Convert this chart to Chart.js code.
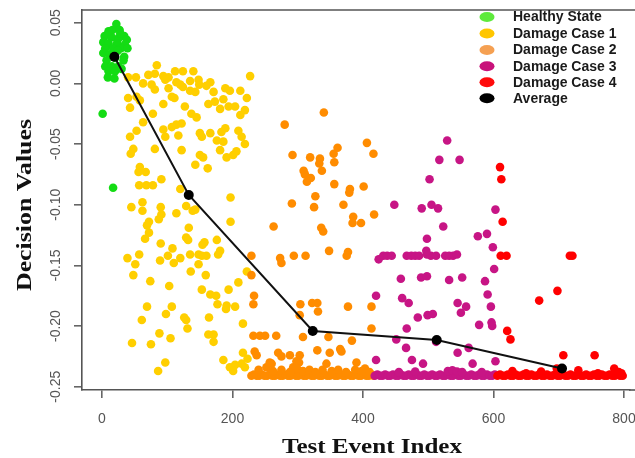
<!DOCTYPE html>
<html><head><meta charset="utf-8">
<script src="https://cdn.jsdelivr.net/npm/chart.js@4/dist/chart.umd.min.js"></script>
<style>html,body{margin:0;padding:0;background:#fff;}#wrap{width:635px;height:458px;position:relative;}</style>
</head><body><div id="wrap"><canvas id="c" width="635" height="458"></canvas></div>
<script>
const xTicks=[0,200,400,600,800];
const yTicks=[-0.25,-0.20,-0.15,-0.10,-0.05,0.00,0.05];
const yTickLabels=['-0.25','-0.20','-0.15','-0.10','-0.05','0.00','0.05'];
const seriesNames=['Healthy State','Damage Case 1','Damage Case 2','Damage Case 3','Damage Case 4','Average'];
const axisTitleX='Test Event Index';
const axisTitleY='Decision Values';

const healthyX=[22,16,27,34,4,15,25,38,2,10,23,35,5,17,29,39,2,12,34,7,20,33,5,15,25,10,20,9,19,28,10,30,24,1,17];
const healthyY=[0.049,0.044,0.044,0.039,0.039,0.038,0.037,0.036,0.034,0.033,0.033,0.032,0.029,0.029,0.029,0.029,0.025,0.024,0.022,0.019,0.021,0.019,0.014,0.014,0.014,0.010,0.010,0.005,0.004,0.041,0.043,0.012,0.027,-0.025,-0.086];

const case1X=[84,71,81,94,102,112,124,140,52,40,
63,76,97,114,120,135,148,149,166,160,
227,81,102,124,135,143,171,189,196,212,
222,40,53,58,43,94,107,111,127,163,
173,186,194,204,181,219,212,137,145,78,
63,94,107,114,122,117,97,150,153,166,
183,189,209,214,176,186,219,43,53,48,
44,81,122,181,191,201,206,150,155,143,
162,58,56,67,91,68,57,78,120,197,
45,62,62,90,91,87,114,129,139,143,
72,69,72,66,133,129,132,90,108,157,
154,176,197,39,57,51,48,89,101,110,
120,135,148,153,160,178,181,148,136,159,
74,103,153,166,175,194,209,222,177,191,
204,190,69,107,98,61,126,129,131,164,
216,88,105,163,171,171,46,75,97,86,
186,196,204,214,219,216,223,201];
const case1Y=[0.015,0.007,0.008,0.006,0.005,0.010,0.010,0.010,0.005,0.005,
0.000,-0.001,0.003,0.001,-0.001,0.002,0.003,-0.001,0.001,-0.002,
0.006,-0.005,-0.004,-0.003,-0.006,-0.007,-0.007,-0.004,-0.006,-0.006,
-0.012,-0.012,-0.011,-0.014,-0.020,-0.017,-0.011,-0.012,-0.019,-0.017,
-0.015,-0.013,-0.019,-0.019,-0.021,-0.022,-0.026,-0.025,-0.028,-0.025,
-0.032,-0.038,-0.036,-0.034,-0.033,-0.043,-0.044,-0.041,-0.044,-0.041,
-0.040,-0.037,-0.039,-0.044,-0.047,-0.048,-0.050,-0.044,-0.039,-0.054,
-0.058,-0.054,-0.055,-0.055,-0.061,-0.059,-0.056,-0.059,-0.061,-0.067,
-0.070,-0.069,-0.073,-0.073,-0.079,-0.084,-0.084,-0.084,-0.087,-0.094,
-0.102,-0.098,-0.105,-0.102,-0.108,-0.112,-0.107,-0.101,-0.105,-0.104,
-0.114,-0.117,-0.123,-0.128,-0.119,-0.127,-0.129,-0.132,-0.136,-0.131,
-0.133,-0.129,-0.114,-0.144,-0.141,-0.149,-0.158,-0.146,-0.142,-0.148,
-0.144,-0.141,-0.141,-0.142,-0.142,-0.141,-0.138,-0.149,-0.155,-0.158,
-0.163,-0.167,-0.170,-0.174,-0.175,-0.170,-0.164,-0.155,-0.182,-0.183,
-0.184,-0.186,-0.184,-0.184,-0.190,-0.195,-0.193,-0.195,-0.202,-0.193,
-0.198,-0.206,-0.210,-0.207,-0.207,-0.213,-0.214,-0.215,-0.230,-0.237,
-0.228,-0.234,-0.232,-0.231,-0.234,-0.222,-0.227,-0.237];

const case2X=[340,280,292,319,334,333,355,361,356,337,
309,311,320,314,406,416,356,380,379,401,
327,325,291,370,385,384,397,417,263,336,
339,229,273,275,294,312,348,377,375,229,
233,232,304,322,330,331,377,413,303,413,
232,242,250,267,308,347,383,330,349,365,
367,234,237,270,275,288,303,390,257,302,
344,403,252,260,293,298,
240,262,275,288,299,308,318,327,338,352,362,374,388,398,410];
const case2Y=[-0.024,-0.034,-0.059,-0.061,-0.062,-0.066,-0.058,-0.053,-0.065,-0.072,
-0.072,-0.075,-0.078,-0.081,-0.049,-0.058,-0.083,-0.087,-0.090,-0.085,
-0.093,-0.102,-0.099,-0.100,-0.110,-0.115,-0.115,-0.108,-0.118,-0.119,
-0.122,-0.142,-0.144,-0.148,-0.142,-0.142,-0.138,-0.139,-0.142,-0.158,
-0.175,-0.182,-0.182,-0.181,-0.181,-0.188,-0.184,-0.184,-0.191,-0.202,
-0.208,-0.208,-0.208,-0.208,-0.209,-0.209,-0.212,-0.220,-0.222,-0.219,
-0.221,-0.221,-0.224,-0.222,-0.225,-0.224,-0.224,-0.230,-0.230,-0.230,
-0.231,-0.235,-0.234,-0.231,-0.234,-0.229,
-0.236,-0.237,-0.236,-0.238,-0.235,-0.237,-0.236,-0.238,-0.236,-0.237,-0.236,-0.238,-0.236,-0.237,-0.238];
const case2BandX=[229,233,237,241,245,249,253,257,261,265,269,273,277,281,285,289,293,297,301,305,309,313,317,321,325,329,333,337,341,345,349,353,357,361,365,369,373,377,381,385,389,393,397,401,405,409,413,416];
const case2BandY=[-0.241,-0.240,-0.241,-0.241,-0.240,-0.241,-0.241,-0.240,-0.241,-0.241,
-0.240,-0.241,-0.241,-0.240,-0.241,-0.241,-0.240,-0.241,-0.241,-0.240,
-0.241,-0.241,-0.240,-0.241,-0.241,-0.240,-0.241,-0.241,-0.240,-0.241,
-0.241,-0.240,-0.241,-0.241,-0.240,-0.241,-0.241,-0.240,-0.241,-0.241,
-0.240,-0.241,-0.241,-0.240,-0.241,-0.241,-0.240,-0.241];

const case3X=[529,517,548,502,448,490,505,515,523,498,
576,590,599,603,601,587,591,596,424,431,
437,444,467,474,480,486,498,504,512,526,
532,538,544,497,458,489,498,532,552,420,
460,470,545,558,550,484,507,467,466,451,
420,475,492,512,578,562,568,597,598,603,
545,499,
455,480,530,537,544,552,582];
const case3Y=[-0.047,-0.063,-0.063,-0.079,-0.100,-0.103,-0.100,-0.103,-0.118,-0.128,
-0.126,-0.124,-0.135,-0.104,-0.153,-0.163,-0.174,-0.184,-0.145,-0.142,
-0.142,-0.142,-0.142,-0.142,-0.142,-0.142,-0.141,-0.142,-0.142,-0.142,
-0.142,-0.142,-0.141,-0.138,-0.161,-0.160,-0.159,-0.162,-0.160,-0.175,
-0.177,-0.181,-0.181,-0.184,-0.189,-0.193,-0.190,-0.202,-0.218,-0.211,
-0.228,-0.228,-0.231,-0.213,-0.199,-0.218,-0.231,-0.197,-0.200,-0.229,
-0.222,-0.191,
-0.238,-0.2375,-0.237,-0.2365,-0.2375,-0.238,-0.238];
const case3BandX=[418,422,426,430,434,438,442,446,450,454,458,462,466,470,474,478,482,486,490,494,498,502,506,510,514,518,522,526,530,534,538,542,546,550,554,558,562,566,570,574,578,582,586,590,594,598,602];
const case3BandY=[-0.241,-0.240,-0.241,-0.241,-0.240,-0.241,-0.241,-0.240,-0.241,-0.241,
-0.240,-0.241,-0.241,-0.240,-0.241,-0.241,-0.240,-0.241,-0.241,-0.240,
-0.241,-0.241,-0.240,-0.241,-0.241,-0.240,-0.241,-0.241,-0.240,-0.241,
-0.241,-0.240,-0.241,-0.241,-0.240,-0.241,-0.241,-0.240,-0.241,-0.241,
-0.240,-0.241,-0.241,-0.240,-0.241,-0.241,-0.240];

const case4X=[610,612,614,611,620,717,721,698,670,621,626,707,755,697,
629,650,673,730,760,785,792,796];
const case4Y=[-0.069,-0.079,-0.114,-0.142,-0.142,-0.142,-0.142,-0.171,-0.179,-0.204,-0.211,-0.224,-0.224,-0.235,
-0.237,-0.239,-0.2375,-0.2365,-0.239,-0.235,-0.238,-0.239];
const case4BandX=[606,610,614,618,622,626,630,634,638,642,646,650,654,658,662,666,670,674,678,682,686,690,694,698,702,706,710,714,718,722,726,730,734,738,742,746,750,754,758,762,766,770,774,778,782,786,790,794,798];
const case4BandY=[-0.241,-0.240,-0.241,-0.241,-0.240,-0.241,-0.241,-0.240,-0.241,-0.241,
-0.240,-0.241,-0.241,-0.240,-0.241,-0.241,-0.240,-0.241,-0.241,-0.240,
-0.241,-0.241,-0.240,-0.241,-0.241,-0.240,-0.241,-0.241,-0.240,-0.241,
-0.241,-0.240,-0.241,-0.241,-0.240,-0.241,-0.241,-0.240,-0.241,-0.241,
-0.240,-0.241,-0.241,-0.240,-0.241,-0.241,-0.240,-0.241,-0.241];

const avgX=[19,133,323,513,705];
const avgY=[0.022,-0.092,-0.204,-0.2115,-0.235];

const pointColors=['#14DC14','#FFCF00','#FF8C00','#C71585','#FF0000','#000000'];
const legendColors=['#5EEA3C','#FFC600','#F5A052','#C8127A','#FF0B0B','#000000'];

function pts(xs,ys){return xs.map((x,i)=>({x:x,y:ys[i]}));}

function scatterSet(i,data,order){
  return {label:seriesNames[i],data:data,showLine:false,order:order,
    pointRadius:4.3,pointHoverRadius:4.3,pointBorderWidth:0,
    backgroundColor:pointColors[i],borderColor:pointColors[i]};
}

const overlay={
  id:'overlay',
  afterDraw(chart){
    const ctx=chart.ctx, ca=chart.chartArea, ys=chart.scales.y, W=chart.width;
    ctx.save();
    ctx.strokeStyle='#555'; ctx.lineWidth=1.6;
    ctx.beginPath(); ctx.moveTo(ca.left,ca.top); ctx.lineTo(W,ca.top); ctx.stroke();
    ctx.beginPath(); ctx.moveTo(ca.right-1,ca.bottom); ctx.lineTo(W,ca.bottom); ctx.stroke();
    ctx.fillStyle='#555';
    ctx.font='14px "Liberation Sans", Arial, sans-serif';
    ctx.textAlign='center'; ctx.textBaseline='middle';
    yTicks.forEach((v,i)=>{
      const py=ys.getPixelForValue(v);
      ctx.save(); ctx.translate(56,py); ctx.rotate(-Math.PI/2); ctx.fillText(yTickLabels[i],0,0); ctx.restore();
    });
    ctx.fillStyle='#111';
    ctx.font='bold 20px "Liberation Serif", "DejaVu Serif", serif';
    ctx.textBaseline='alphabetic';
    let w=ctx.measureText(axisTitleX).width;
    ctx.save(); ctx.translate(372,453); ctx.scale(180/w,1); ctx.fillText(axisTitleX,0,0); ctx.restore();
    w=ctx.measureText(axisTitleY).width;
    ctx.save(); ctx.translate(31,205); ctx.rotate(-Math.PI/2); ctx.scale(172/w,1); ctx.fillText(axisTitleY,0,0); ctx.restore();
    const rowsY=[17,33.5,50,66.3,82.3,98.3];
    ctx.font='bold 14px "Liberation Sans", Arial, sans-serif';
    ctx.textAlign='left'; ctx.textBaseline='middle';
    seriesNames.forEach((n,i)=>{
      ctx.fillStyle=legendColors[i];
      ctx.beginPath(); ctx.ellipse(487,rowsY[i],7.5,5,0,0,Math.PI*2); ctx.fill();
      ctx.fillStyle='#1a1a1a';
      ctx.fillText(n,513,rowsY[i]+0.5);
    });
    ctx.restore();
  }
};

new Chart(document.getElementById('c'),{
  type:'scatter',
  data:{datasets:[
    {label:seriesNames[5],data:pts(avgX,avgY),showLine:true,order:0,borderColor:'#111',borderWidth:2,
      backgroundColor:'#000',pointRadius:5,pointBorderWidth:0,pointHoverRadius:5,tension:0},
    scatterSet(4,pts(case4BandX,case4BandY).concat(pts(case4X,case4Y)),1),
    scatterSet(3,pts(case3BandX,case3BandY).concat(pts(case3X,case3Y)),2),
    scatterSet(2,pts(case2BandX,case2BandY).concat(pts(case2X,case2Y)),3),
    scatterSet(1,pts(case1X,case1Y),4),
    scatterSet(0,pts(healthyX,healthyY),5)
  ]},
  options:{
    responsive:false,animation:false,devicePixelRatio:1,
    layout:{padding:{top:10,left:0,right:0,bottom:0}},
    plugins:{legend:{display:false},tooltip:{enabled:false},title:{display:false}},
    scales:{
      x:{type:'linear',min:-30.65,max:809.2,
        afterBuildTicks:(s)=>{s.ticks=xTicks.map(v=>({value:v}));},
        afterFit:(s)=>{s.height=68;s.paddingLeft=0;s.paddingRight=0;},
        ticks:{color:'#555',font:{family:'"Liberation Sans", Arial, sans-serif',size:14},padding:13,maxRotation:0,autoSkip:false,callback:(v)=>String(v)},
        grid:{drawOnChartArea:false,drawTicks:true,tickLength:8,color:'#666',lineWidth:1.6},
        border:{display:true,color:'#555',width:1.6}
      },
      y:{type:'linear',min:-0.2527,max:0.0605,
        afterBuildTicks:(s)=>{s.ticks=yTicks.map(v=>({value:v}));},
        afterFit:(s)=>{s.width=82;s.paddingTop=0;s.paddingBottom=0;},
        ticks:{display:false},
        grid:{drawOnChartArea:false,drawTicks:true,tickLength:8,color:'#666',lineWidth:1.6},
        border:{display:true,color:'#555',width:1.6}
      }
    }
  },
  plugins:[overlay]
});
</script>
</body></html>
